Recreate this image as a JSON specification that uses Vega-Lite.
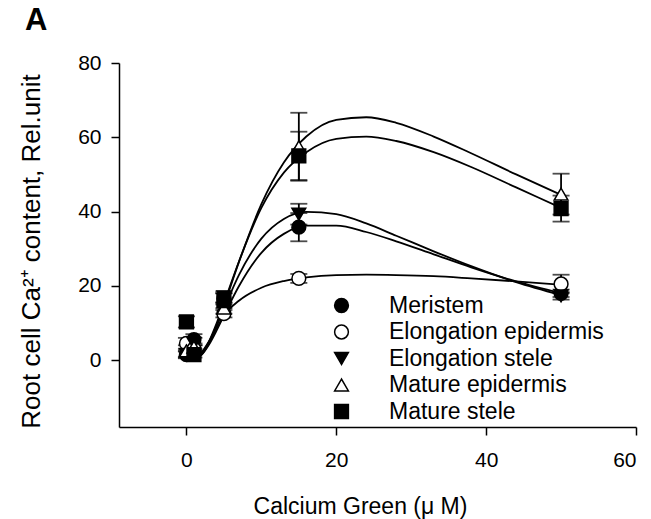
{
  "$schema": "https://vega.github.io/schema/vega-lite/v6.json",
  "autosize": {"type": "none"},
  "width": 517,
  "height": 364,
  "padding": {"left": 119, "top": 63, "right": 15, "bottom": 92},
  "background": "white",
  "config": {
    "font": "Liberation Sans",
    "view": {"stroke": null},
    "axis": {"grid": false, "domainColor": "black", "tickColor": "black", "labelColor": "black", "titleColor": "black", "domainWidth": 1.5, "tickWidth": 1.5, "tickSize": 8, "labelFontSize": 21, "titleFontWeight": "normal", "labelFont": "Liberation Sans", "titleFont": "Liberation Sans"}
  },
  "title": {"text": "A", "anchor": "start", "frame": "group", "fontSize": 31, "fontWeight": "bold", "font": "Liberation Sans", "color": "black", "dx": -94, "offset": 15},
  "datasets": {
    "pts": [
      {"series": "Meristem", "x": 0, "y": 1.5, "lo": 0.7, "hi": 2.3},
      {"series": "Meristem", "x": 1, "y": 5.5, "lo": 4.0, "hi": 7.0},
      {"series": "Meristem", "x": 5, "y": 16.5, "lo": 15.0, "hi": 18.0},
      {"series": "Meristem", "x": 15, "y": 35.8, "lo": 32.0, "hi": 39.6},
      {"series": "Meristem", "x": 50, "y": 18.0, "lo": 17.0, "hi": 19.0},
      {"series": "Elongation epidermis", "x": 0, "y": 4.5, "lo": 3.0, "hi": 6.0},
      {"series": "Elongation epidermis", "x": 1, "y": 3.0, "lo": 2.0, "hi": 4.0},
      {"series": "Elongation epidermis", "x": 5, "y": 12.5, "lo": 11.5, "hi": 13.5},
      {"series": "Elongation epidermis", "x": 15, "y": 22.0, "lo": 20.8, "hi": 23.2},
      {"series": "Elongation epidermis", "x": 50, "y": 20.5, "lo": 18.0, "hi": 23.0},
      {"series": "Elongation stele", "x": 0, "y": 1.5, "lo": 0.5, "hi": 2.5},
      {"series": "Elongation stele", "x": 1, "y": 4.5, "lo": 3.0, "hi": 6.0},
      {"series": "Elongation stele", "x": 5, "y": 17.0, "lo": 15.5, "hi": 18.5},
      {"series": "Elongation stele", "x": 15, "y": 39.3, "lo": 36.5, "hi": 42.1},
      {"series": "Elongation stele", "x": 50, "y": 17.3, "lo": 16.3, "hi": 18.3},
      {"series": "Mature epidermis", "x": 0, "y": 2.5, "lo": 1.0, "hi": 4.0},
      {"series": "Mature epidermis", "x": 1, "y": 3.5, "lo": 2.5, "hi": 4.5},
      {"series": "Mature epidermis", "x": 5, "y": 14.0, "lo": 12.5, "hi": 15.5},
      {"series": "Mature epidermis", "x": 15, "y": 57.4, "lo": 48.3, "hi": 66.6},
      {"series": "Mature epidermis", "x": 50, "y": 44.7, "lo": 39.2, "hi": 50.2},
      {"series": "Mature stele", "x": 0, "y": 10.3, "lo": 8.8, "hi": 11.8},
      {"series": "Mature stele", "x": 1, "y": 1.5, "lo": 0.7, "hi": 2.3},
      {"series": "Mature stele", "x": 5, "y": 16.0, "lo": 14.0, "hi": 18.0},
      {"series": "Mature stele", "x": 15, "y": 55.0, "lo": 48.5, "hi": 61.5},
      {"series": "Mature stele", "x": 50, "y": 40.8, "lo": 37.3, "hi": 44.3}
    ],
    "curves": [
      {"series": "Mature epidermis", "x": 1, "y": 0.12}, {"series": "Mature epidermis", "x": 2, "y": 1.43}, {"series": "Mature epidermis", "x": 3, "y": 4.58}, {"series": "Mature epidermis", "x": 4, "y": 9.21}, {"series": "Mature epidermis", "x": 5, "y": 14.7}, {"series": "Mature epidermis", "x": 7, "y": 26.4}, {"series": "Mature epidermis", "x": 10, "y": 42.0}, {"series": "Mature epidermis", "x": 13, "y": 53.2}, {"series": "Mature epidermis", "x": 16, "y": 60.2}, {"series": "Mature epidermis", "x": 20, "y": 64.7}, {"series": "Mature epidermis", "x": 24, "y": 65.4}, {"series": "Mature epidermis", "x": 28, "y": 63.9}, {"series": "Mature epidermis", "x": 33, "y": 60.2}, {"series": "Mature epidermis", "x": 38, "y": 55.7}, {"series": "Mature epidermis", "x": 44, "y": 50.0}, {"series": "Mature epidermis", "x": 50, "y": 44.5},
      {"series": "Mature stele", "x": 1, "y": 0.2}, {"series": "Mature stele", "x": 2, "y": 1.6}, {"series": "Mature stele", "x": 3, "y": 5.0}, {"series": "Mature stele", "x": 4, "y": 9.8}, {"series": "Mature stele", "x": 5, "y": 15.3}, {"series": "Mature stele", "x": 7, "y": 26.5}, {"series": "Mature stele", "x": 10, "y": 41.0}, {"series": "Mature stele", "x": 13, "y": 50.5}, {"series": "Mature stele", "x": 16, "y": 56.0}, {"series": "Mature stele", "x": 20, "y": 59.6}, {"series": "Mature stele", "x": 24, "y": 60.2}, {"series": "Mature stele", "x": 28, "y": 59.0}, {"series": "Mature stele", "x": 33, "y": 56.0}, {"series": "Mature stele", "x": 38, "y": 52.0}, {"series": "Mature stele", "x": 44, "y": 46.5}, {"series": "Mature stele", "x": 50, "y": 41.0},
      {"series": "Elongation stele", "x": 1, "y": 0.13}, {"series": "Elongation stele", "x": 2, "y": 1.55}, {"series": "Elongation stele", "x": 3, "y": 4.72}, {"series": "Elongation stele", "x": 4, "y": 9.04}, {"series": "Elongation stele", "x": 5, "y": 13.8}, {"series": "Elongation stele", "x": 7, "y": 22.9}, {"series": "Elongation stele", "x": 10, "y": 32.7}, {"series": "Elongation stele", "x": 13, "y": 38.0}, {"series": "Elongation stele", "x": 16, "y": 39.9}, {"series": "Elongation stele", "x": 20, "y": 39.3}, {"series": "Elongation stele", "x": 24, "y": 36.8}, {"series": "Elongation stele", "x": 28, "y": 33.5}, {"series": "Elongation stele", "x": 33, "y": 29.3}, {"series": "Elongation stele", "x": 38, "y": 25.3}, {"series": "Elongation stele", "x": 44, "y": 21.0}, {"series": "Elongation stele", "x": 50, "y": 17.5},
      {"series": "Meristem", "x": 1, "y": 0.13}, {"series": "Meristem", "x": 2, "y": 1.39}, {"series": "Meristem", "x": 3, "y": 4.15}, {"series": "Meristem", "x": 4, "y": 7.88}, {"series": "Meristem", "x": 5, "y": 12.0}, {"series": "Meristem", "x": 7, "y": 19.9}, {"series": "Meristem", "x": 10, "y": 28.9}, {"series": "Meristem", "x": 13, "y": 34.0}, {"series": "Meristem", "x": 16, "y": 36.2}, {"series": "Meristem", "x": 20, "y": 36.2}, {"series": "Meristem", "x": 24, "y": 34.5}, {"series": "Meristem", "x": 28, "y": 32.0}, {"series": "Meristem", "x": 33, "y": 28.5}, {"series": "Meristem", "x": 38, "y": 25.0}, {"series": "Meristem", "x": 44, "y": 21.2}, {"series": "Meristem", "x": 50, "y": 18.0},
      {"series": "Elongation epidermis", "x": 1, "y": 0.3}, {"series": "Elongation epidermis", "x": 2, "y": 2.0}, {"series": "Elongation epidermis", "x": 3, "y": 5.0}, {"series": "Elongation epidermis", "x": 4, "y": 8.5}, {"series": "Elongation epidermis", "x": 5, "y": 12.0}, {"series": "Elongation epidermis", "x": 7, "y": 16.0}, {"series": "Elongation epidermis", "x": 10, "y": 19.5}, {"series": "Elongation epidermis", "x": 13, "y": 21.3}, {"series": "Elongation epidermis", "x": 16, "y": 22.3}, {"series": "Elongation epidermis", "x": 20, "y": 22.9}, {"series": "Elongation epidermis", "x": 24, "y": 23.0}, {"series": "Elongation epidermis", "x": 28, "y": 22.9}, {"series": "Elongation epidermis", "x": 33, "y": 22.6}, {"series": "Elongation epidermis", "x": 38, "y": 22.0}, {"series": "Elongation epidermis", "x": 44, "y": 21.2}, {"series": "Elongation epidermis", "x": 50, "y": 20.3}
    ]
  },
  "layer": [
    {
      "data": {"name": "curves"},
      "mark": {"type": "line", "color": "black", "strokeWidth": 1.8, "interpolate": "monotone"},
      "encoding": {
        "x": {"field": "x", "type": "quantitative", "scale": {"domain": [-9, 60], "nice": false, "zero": false},
              "axis": {"values": [0, 20, 40, 60], "title": "Calcium Green (μ M)", "labelPadding": 14, "titlePadding": 25, "titleFontSize": 23, "titleX": 241}},
        "y": {"field": "y", "type": "quantitative", "scale": {"domain": [-18, 80], "nice": false, "zero": false},
              "axis": {"values": [0, 20, 40, 60, 80], "title": "Root cell Ca²⁺ content, Rel.unit", "labelPadding": 10, "titlePadding": 33, "titleFontSize": 26, "titleY": 188}},
        "detail": {"field": "series"}
      }
    },
    {
      "data": {"name": "pts"},
      "mark": {"type": "errorbar", "color": "black", "thickness": 1.8, "ticks": {"size": 17, "thickness": 1.8, "color": "black"}},
      "encoding": {
        "x": {"field": "x", "type": "quantitative", "title": "Calcium Green (μ M)"},
        "y": {"field": "lo", "type": "quantitative", "title": "Root cell Ca²⁺ content, Rel.unit"},
        "y2": {"field": "hi"}
      }
    },
    {
      "data": {"name": "pts"},
      "mark": {"type": "point", "stroke": "black", "strokeWidth": 1.5, "opacity": 1, "size": 190},
      "encoding": {
        "x": {"field": "x", "type": "quantitative", "title": "Calcium Green (μ M)"},
        "y": {"field": "y", "type": "quantitative", "title": "Root cell Ca²⁺ content, Rel.unit"},
        "shape": {"field": "series", "type": "nominal",
                  "scale": {"domain": ["Meristem", "Elongation epidermis", "Elongation stele", "Mature epidermis", "Mature stele"], "range": ["circle", "circle", "triangle-down", "triangle-up", "square"]},
                  "legend": {"title": null, "orient": "none", "legendX": 211, "legendY": 231, "labelFontSize": 23, "labelFont": "Liberation Sans", "labelColor": "black", "symbolSize": 190, "labelOffset": 36, "rowPadding": 2.5, "labelLimit": 400,
                             "encode": {"symbols": {"update": {"stroke": {"value": "black"}, "strokeWidth": {"value": 1.5}, "opacity": {"value": 1}}}}}},
        "fill": {"field": "series", "type": "nominal",
                 "scale": {"domain": ["Meristem", "Elongation epidermis", "Elongation stele", "Mature epidermis", "Mature stele"], "range": ["black", "white", "black", "white", "black"]},
                 "legend": {"title": null, "orient": "none", "legendX": 211, "legendY": 231, "labelFontSize": 23, "labelFont": "Liberation Sans", "labelColor": "black", "symbolSize": 190, "labelOffset": 36, "rowPadding": 2.5, "labelLimit": 400,
                            "encode": {"symbols": {"update": {"stroke": {"value": "black"}, "strokeWidth": {"value": 1.5}, "opacity": {"value": 1}}}}}}
      }
    }
  ]
}
